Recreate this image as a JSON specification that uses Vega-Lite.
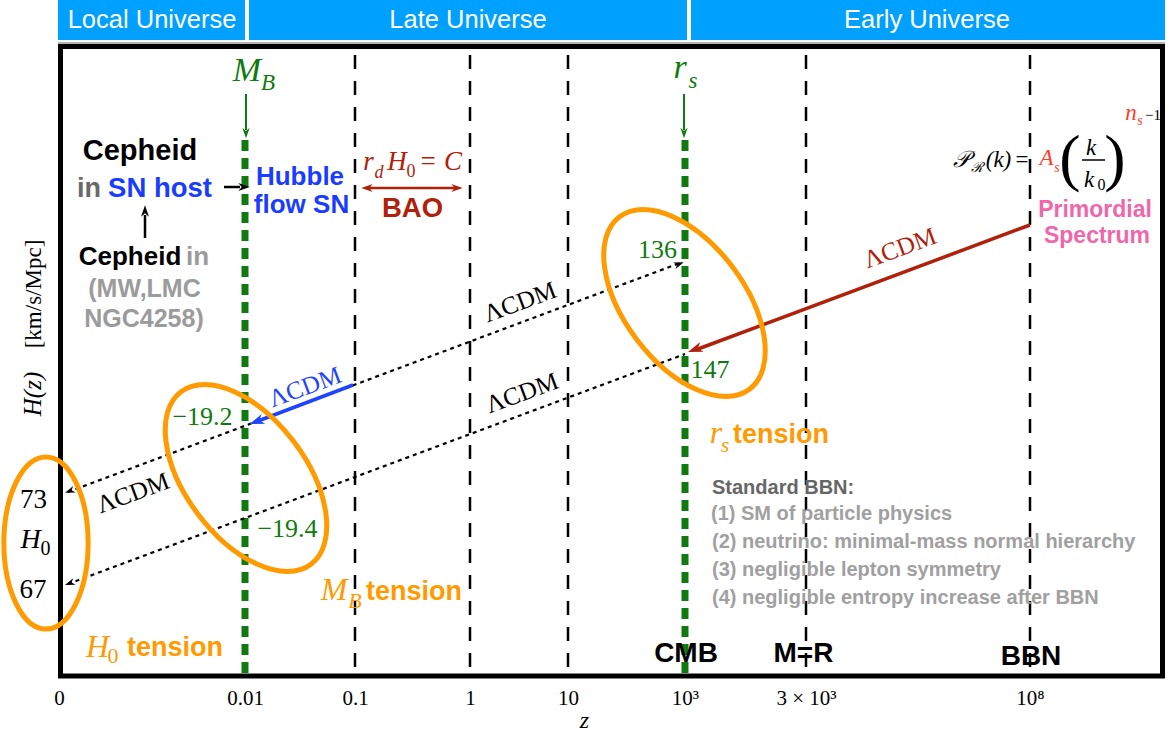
{
"$schema": "https://vega.github.io/schema/vega-lite/v6.json",
"width": 1168, "height": 676,
"autosize": {"type": "none"},
"padding": {"left": 0, "top": 0, "right": 0, "bottom": 60},
"background": "white",
"config": {"view": {"stroke": null}},
"encoding": {
  "x": {"field": "x", "type": "quantitative", "scale": {"domain": [0, 116.8], "nice": false, "zero": false},
        "axis": {"values": [5.9, 24.5, 35.5, 47, 56.8, 68.5, 80.6, 103],
                 "labelExpr": "datum.value == 5.9 ? '0' : datum.value == 24.5 ? '0.01' : datum.value == 35.5 ? '0.1' : datum.value == 47 ? '1' : datum.value == 56.8 ? '10' : datum.value == 68.5 ? '10³' : datum.value == 80.6 ? '3 × 10³' : '10⁸'",
                 "domain": false, "ticks": false, "tickSize": 0, "grid": false,
                 "labelFont": "Liberation Serif", "labelFontSize": 21, "labelColor": "black", "labelPadding": 11,
                 "labelFlush": false, "labelOverlap": false, "labelBound": false,
                 "title": "z", "titleFont": "Liberation Serif", "titleFontStyle": "italic", "titleFontWeight": "normal", "titleFontSize": 24, "titleColor": "black", "titlePadding": 0}},
  "y": {"field": "y", "type": "quantitative", "scale": {"domain": [0, 67.6], "nice": false, "zero": false}, "axis": null}
},
"layer": [
  {"data": {"values": [{"x": 5.8, "x2": 24.5, "y": 63.6, "y2": 67.6}, {"x": 24.9, "x2": 68.7, "y": 63.6, "y2": 67.6}, {"x": 69.1, "x2": 116.5, "y": 63.6, "y2": 67.6}]},
   "mark": {"type": "rect", "color": "#00A0FF"}, "encoding": {"x2": {"field": "x2"}, "y2": {"field": "y2"}}},
  {"data": {"values": [{"x": 15.2, "y": 65.6, "t": "Local Universe"}, {"x": 46.8, "y": 65.6, "t": "Late Universe"}, {"x": 92.7, "y": 65.6, "t": "Early Universe"}]},
   "mark": {"type": "text", "color": "white", "font": "Liberation Sans", "fontSize": 25.5, "align": "center", "baseline": "middle"}, "encoding": {"text": {"field": "t"}}},
  {"data": {"values": [{"x": 5.8, "x2": 116.5, "y": 63.3}]},
   "mark": {"type": "rule", "color": "#9a9a9a", "strokeWidth": 1.5}, "encoding": {"x2": {"field": "x2"}}},
  {"data": {"values": [{"x": 6.05, "x2": 116.25, "y": 0, "y2": 62.95}]},
   "mark": {"type": "rect", "filled": false, "stroke": "black", "strokeWidth": 5}, "encoding": {"x2": {"field": "x2"}, "y2": {"field": "y2"}}},
  {"data": {"values": [{"x": 35.5, "y": 62.1, "y2": 0}, {"x": 47.0, "y": 62.1, "y2": 0}, {"x": 56.8, "y": 62.1, "y2": 0}, {"x": 80.6, "y": 62.1, "y2": 0}, {"x": 103.0, "y": 62.1, "y2": 0}]},
   "mark": {"type": "rule", "color": "black", "strokeWidth": 2.5, "strokeDash": [14, 12]}, "encoding": {"y2": {"field": "y2"}}},
  {"data": {"values": [{"x": 24.5, "y": 53.6, "y2": 0}, {"x": 68.5, "y": 53.6, "y2": 0}]},
   "mark": {"type": "rule", "color": "#107A10", "strokeWidth": 7, "strokeDash": [11, 7]}, "encoding": {"y2": {"field": "y2"}}},
  {"data": {"values": [{"x": 24.6, "y": 58.2, "y2": 54.6}, {"x": 68.4, "y": 58.2, "y2": 54.6}]},
   "mark": {"type": "rule", "color": "#107A10", "strokeWidth": 2}, "encoding": {"y2": {"field": "y2"}}},
  {"data": {"values": [{"id": "u", "x": 6.8, "y": 18.4}, {"id": "u", "x": 68.0, "y": 41.3}, {"id": "l", "x": 6.8, "y": 9.2}, {"id": "l", "x": 68.5, "y": 32.2}]},
   "mark": {"type": "line", "color": "black", "strokeWidth": 2.2, "strokeDash": [4, 4]}, "encoding": {"detail": {"field": "id"}}},
  {"data": {"values": [{"id": "r", "x": 103.0, "y": 45.1}, {"id": "r", "x": 69.8, "y": 32.7}]},
   "mark": {"type": "line", "color": "#B0200A", "strokeWidth": 3.5}, "encoding": {"detail": {"field": "id"}}},
  {"data": {"values": [{"id": "b", "x": 35.3, "y": 29.1}, {"id": "b", "x": 25.8, "y": 25.5}]},
   "mark": {"type": "line", "color": "#1F45FC", "strokeWidth": 3.5}, "encoding": {"detail": {"field": "id"}}},
  {"data": {"values": [{"id": "a", "x": 22.4, "y": 48.9}, {"id": "a", "x": 24.0, "y": 48.9}, {"id": "c", "x": 14.5, "y": 43.8}, {"id": "c", "x": 14.5, "y": 46.1}]},
   "mark": {"type": "line", "color": "black", "strokeWidth": 2.5}, "encoding": {"detail": {"field": "id"}}},
  {"data": {"values": [{"id": "bao", "x": 36.8, "y": 48.8}, {"id": "bao", "x": 45.6, "y": 48.8}]},
   "mark": {"type": "line", "color": "#B0200A", "strokeWidth": 2.5}, "encoding": {"detail": {"field": "id"}}},
  {"data": {"values": [{"x": 108.2, "x2": 110.5, "y": 51.6}]},
   "mark": {"type": "rule", "color": "black", "strokeWidth": 1.5}, "encoding": {"x2": {"field": "x2"}}},
  {"data": {"values": [{"x": 24.6, "y": 54.3}, {"x": 68.4, "y": 54.3}]},
   "mark": {"type": "point", "shape": "M 1 0 L -1 -0.7 L -0.4 0 L -1 0.7 Z", "filled": true, "color": "#107A10", "size": 110, "angle": 90, "opacity": 1}},
  {"data": {"values": [{"x": 6.97, "y": 18.5}, {"x": 6.97, "y": 9.27}]},
   "mark": {"type": "point", "shape": "M 1 0 L -1 -0.7 L -0.4 0 L -1 0.7 Z", "filled": true, "color": "black", "size": 100, "angle": 159.6, "opacity": 1}},
  {"data": {"values": [{"x": 67.9, "y": 41.2}]},
   "mark": {"type": "point", "shape": "M 1 0 L -1 -0.7 L -0.4 0 L -1 0.7 Z", "filled": true, "color": "black", "size": 100, "angle": -20.4, "opacity": 1}},
  {"data": {"values": [{"x": 69.5, "y": 32.65}]},
   "mark": {"type": "point", "shape": "M 1 0 L -1 -0.7 L -0.4 0 L -1 0.7 Z", "filled": true, "color": "#B0200A", "size": 220, "angle": 159.6, "opacity": 1}},
  {"data": {"values": [{"x": 25.65, "y": 25.45}]},
   "mark": {"type": "point", "shape": "M 1 0 L -1 -0.7 L -0.4 0 L -1 0.7 Z", "filled": true, "color": "#1F45FC", "size": 220, "angle": 159.6, "opacity": 1}},
  {"data": {"values": [{"x": 24.4, "y": 48.9}]},
   "mark": {"type": "point", "shape": "M 1 0 L -1 -0.7 L -0.4 0 L -1 0.7 Z", "filled": true, "color": "black", "size": 130, "angle": 0, "opacity": 1}},
  {"data": {"values": [{"x": 14.5, "y": 46.5}]},
   "mark": {"type": "point", "shape": "M 1 0 L -1 -0.7 L -0.4 0 L -1 0.7 Z", "filled": true, "color": "black", "size": 130, "angle": 270, "opacity": 1}},
  {"data": {"values": [{"x": 45.7, "y": 48.8}]},
   "mark": {"type": "point", "shape": "M 1 0 L -1 -0.7 L -0.4 0 L -1 0.7 Z", "filled": true, "color": "#B0200A", "size": 130, "angle": 0, "opacity": 1}},
  {"data": {"values": [{"x": 36.7, "y": 48.8}]},
   "mark": {"type": "point", "shape": "M 1 0 L -1 -0.7 L -0.4 0 L -1 0.7 Z", "filled": true, "color": "#B0200A", "size": 130, "angle": 180, "opacity": 1}},
  {"data": {"values": [{"x": 24.6, "y": 19.8}, {"x": 68.45, "y": 37.3}]},
   "mark": {"type": "point", "shape": "M 1 0 C 1 0.307 0.552 0.556 0 0.556 C -0.552 0.556 -1 0.307 -1 0 C -1 -0.307 -0.552 -0.556 0 -0.556 C 0.552 -0.556 1 -0.307 1 0 Z", "filled": false, "color": "#FF9A00", "strokeWidth": 5, "size": 46656, "angle": 53, "opacity": 1}},
  {"data": {"values": [{"x": 4.6, "y": 13.3}]},
   "mark": {"type": "point", "shape": "M 1 0 C 1 0.271 0.552 0.49 0 0.49 C -0.552 0.49 -1 0.271 -1 0 C -1 -0.271 -0.552 -0.49 0 -0.49 C 0.552 -0.49 1 -0.271 1 0 Z", "filled": false, "color": "#FF9A00", "strokeWidth": 5, "size": 29584, "angle": 90, "opacity": 1}},
  {"data": {"values": [{"x": 24.7, "y": 59.5, "t": "M"}, {"x": 68.0, "y": 59.8, "t": "r"}]},
   "mark": {"type": "text", "color": "#107A10", "font": "Liberation Serif", "fontStyle": "italic", "fontSize": 34, "align": "center", "baseline": "alphabetic"}, "encoding": {"text": {"field": "t"}}},
  {"data": {"values": [{"x": 26.8, "y": 58.6, "t": "B"}, {"x": 69.3, "y": 58.8, "t": "s"}]},
   "mark": {"type": "text", "color": "#107A10", "font": "Liberation Serif", "fontStyle": "italic", "fontSize": 23, "align": "center", "baseline": "alphabetic"}, "encoding": {"text": {"field": "t"}}},
  {"data": {"values": [{"x": 65.75, "y": 41.8, "t": "136"}, {"x": 71.0, "y": 29.8, "t": "147"}, {"x": 20.25, "y": 25.1, "t": "−19.2"}, {"x": 28.75, "y": 13.9, "t": "−19.4"}]},
   "mark": {"type": "text", "color": "#107A10", "font": "Liberation Serif", "fontSize": 26, "align": "center", "baseline": "alphabetic"}, "encoding": {"text": {"field": "t"}}},
  {"data": {"values": [{"x": 3.35, "y": 16.8, "t": "73"}, {"x": 3.3, "y": 7.8, "t": "67"}]},
   "mark": {"type": "text", "color": "black", "font": "Liberation Serif", "fontSize": 27, "align": "center", "baseline": "alphabetic"}, "encoding": {"text": {"field": "t"}}},
  {"data": {"values": [{"x": 3.05, "y": 12.8, "t": "H"}]},
   "mark": {"type": "text", "color": "black", "font": "Liberation Serif", "fontStyle": "italic", "fontSize": 28, "align": "center", "baseline": "alphabetic"}, "encoding": {"text": {"field": "t"}}},
  {"data": {"values": [{"x": 4.55, "y": 12.1, "t": "0"}]},
   "mark": {"type": "text", "color": "black", "font": "Liberation Serif", "fontSize": 20, "align": "center", "baseline": "alphabetic"}, "encoding": {"text": {"field": "t"}}},
  {"data": {"values": [{"x": 9.75, "y": 1.9, "t": "H"}, {"x": 33.4, "y": 7.6, "t": "M"}, {"x": 71.6, "y": 23.3, "t": "r"}]},
   "mark": {"type": "text", "color": "#FF9A00", "font": "Liberation Serif", "fontStyle": "italic", "fontSize": 32, "align": "center", "baseline": "alphabetic"}, "encoding": {"text": {"field": "t"}}},
  {"data": {"values": [{"x": 35.5, "y": 6.8, "t": "B"}, {"x": 72.5, "y": 22.4, "t": "s"}]},
   "mark": {"type": "text", "color": "#FF9A00", "font": "Liberation Serif", "fontStyle": "italic", "fontSize": 22, "align": "center", "baseline": "alphabetic"}, "encoding": {"text": {"field": "t"}}},
  {"data": {"values": [{"x": 11.3, "y": 1.3, "t": "0"}]},
   "mark": {"type": "text", "color": "#FF9A00", "font": "Liberation Serif", "fontSize": 22, "align": "center", "baseline": "alphabetic"}, "encoding": {"text": {"field": "t"}}},
  {"data": {"values": [{"x": 12.7, "y": 2.0, "t": "tension"}, {"x": 36.6, "y": 7.6, "t": "tension"}, {"x": 73.3, "y": 23.3, "t": "tension"}]},
   "mark": {"type": "text", "color": "#FF9A00", "font": "Liberation Sans", "fontWeight": "bold", "fontSize": 27, "align": "left", "baseline": "alphabetic"}, "encoding": {"text": {"field": "t"}}},
  {"data": {"values": [{"x": 14.0, "y": 51.6, "t": "Cepheid"}]},
   "mark": {"type": "text", "color": "black", "font": "Liberation Sans", "fontWeight": "bold", "fontSize": 29, "align": "center", "baseline": "alphabetic"}, "encoding": {"text": {"field": "t"}}},
  {"data": {"values": [{"x": 13.0, "y": 41.1, "t": "Cepheid"}]},
   "mark": {"type": "text", "color": "black", "font": "Liberation Sans", "fontWeight": "bold", "fontSize": 26, "align": "center", "baseline": "alphabetic"}, "encoding": {"text": {"field": "t"}}},
  {"data": {"values": [{"x": 68.6, "y": 1.4, "t": "CMB"}, {"x": 80.35, "y": 1.4, "t": "M=R"}, {"x": 103.1, "y": 1.1, "t": "BBN"}]},
   "mark": {"type": "text", "color": "black", "font": "Liberation Sans", "fontWeight": "bold", "fontSize": 28, "align": "center", "baseline": "alphabetic"}, "encoding": {"text": {"field": "t"}}},
  {"data": {"values": [{"x": 8.9, "y": 47.9, "t": "in"}]},
   "mark": {"type": "text", "color": "#6a6a6a", "font": "Liberation Sans", "fontWeight": "bold", "fontSize": 27, "align": "center", "baseline": "alphabetic"}, "encoding": {"text": {"field": "t"}}},
  {"data": {"values": [{"x": 19.75, "y": 41.1, "t": "in"}]},
   "mark": {"type": "text", "color": "#9b9b9b", "font": "Liberation Sans", "fontWeight": "bold", "fontSize": 26, "align": "center", "baseline": "alphabetic"}, "encoding": {"text": {"field": "t"}}},
  {"data": {"values": [{"x": 14.45, "y": 37.9, "t": "(MW,LMC"}, {"x": 14.4, "y": 34.9, "t": "NGC4258)"}]},
   "mark": {"type": "text", "color": "#9b9b9b", "font": "Liberation Sans", "fontWeight": "bold", "fontSize": 25, "align": "center", "baseline": "alphabetic"}, "encoding": {"text": {"field": "t"}}},
  {"data": {"values": [{"x": 16.0, "y": 47.9, "t": "SN host"}]},
   "mark": {"type": "text", "color": "#1A3CFF", "font": "Liberation Sans", "fontWeight": "bold", "fontSize": 27.5, "align": "center", "baseline": "alphabetic"}, "encoding": {"text": {"field": "t"}}},
  {"data": {"values": [{"x": 30.0, "y": 49.1, "t": "Hubble"}, {"x": 30.15, "y": 46.3, "t": "flow SN"}]},
   "mark": {"type": "text", "color": "#1A3CFF", "font": "Liberation Sans", "fontWeight": "bold", "fontSize": 26, "align": "center", "baseline": "alphabetic"}, "encoding": {"text": {"field": "t"}}},
  {"data": {"values": [{"x": 41.25, "y": 45.9, "t": "BAO"}]},
   "mark": {"type": "text", "color": "#B0200A", "font": "Liberation Sans", "fontWeight": "bold", "fontSize": 27.5, "align": "center", "baseline": "alphabetic"}, "encoding": {"text": {"field": "t"}}},
  {"data": {"values": [{"x": 109.5, "y": 45.9, "t": "Primordial"}, {"x": 109.7, "y": 43.3, "t": "Spectrum"}]},
   "mark": {"type": "text", "color": "#F066AA", "font": "Liberation Sans", "fontWeight": "bold", "fontSize": 23, "align": "center", "baseline": "alphabetic"}, "encoding": {"text": {"field": "t"}}},
  {"data": {"values": [{"x": 71.2, "y": 18.2, "t": "Standard BBN:"}]},
   "mark": {"type": "text", "color": "#666666", "font": "Liberation Sans", "fontWeight": "bold", "fontSize": 20, "align": "left", "baseline": "alphabetic"}, "encoding": {"text": {"field": "t"}}},
  {"data": {"values": [{"x": 71.1, "y": 15.6, "t": "(1) SM of particle physics"}, {"x": 71.2, "y": 12.8, "t": "(2) neutrino: minimal-mass normal hierarchy"}, {"x": 71.2, "y": 10.0, "t": "(3) negligible lepton symmetry"}, {"x": 71.2, "y": 7.2, "t": "(4) negligible entropy increase after BBN"}]},
   "mark": {"type": "text", "color": "#a0a0a0", "font": "Liberation Sans", "fontWeight": "bold", "fontSize": 20, "align": "left", "baseline": "alphabetic"}, "encoding": {"text": {"field": "t"}}},
  {"data": {"values": [{"x": 36.85, "y": 50.6, "t": "r"}, {"x": 39.7, "y": 50.6, "t": "H"}, {"x": 45.3, "y": 50.6, "t": "C"}]},
   "mark": {"type": "text", "color": "#B0200A", "font": "Liberation Serif", "fontStyle": "italic", "fontSize": 27, "align": "center", "baseline": "alphabetic"}, "encoding": {"text": {"field": "t"}}},
  {"data": {"values": [{"x": 37.9, "y": 49.8, "t": "d"}]},
   "mark": {"type": "text", "color": "#B0200A", "font": "Liberation Serif", "fontStyle": "italic", "fontSize": 18, "align": "center", "baseline": "alphabetic"}, "encoding": {"text": {"field": "t"}}},
  {"data": {"values": [{"x": 41.1, "y": 49.9, "t": "0"}]},
   "mark": {"type": "text", "color": "#B0200A", "font": "Liberation Serif", "fontSize": 18, "align": "center", "baseline": "alphabetic"}, "encoding": {"text": {"field": "t"}}},
  {"data": {"values": [{"x": 42.8, "y": 50.6, "t": "="}]},
   "mark": {"type": "text", "color": "#B0200A", "font": "Liberation Serif", "fontSize": 27, "align": "center", "baseline": "alphabetic"}, "encoding": {"text": {"field": "t"}}},
  {"data": {"values": [{"x": 52.0, "y": 37.4, "t": "ΛCDM"}, {"x": 52.2, "y": 28.3, "t": "ΛCDM"}, {"x": 13.3, "y": 18.3, "t": "ΛCDM"}]},
   "mark": {"type": "text", "color": "black", "font": "Liberation Serif", "fontSize": 25, "align": "center", "baseline": "middle", "angle": -20.4}, "encoding": {"text": {"field": "t"}}},
  {"data": {"values": [{"x": 90.0, "y": 42.8, "t": "ΛCDM"}]},
   "mark": {"type": "text", "color": "#B0200A", "font": "Liberation Serif", "fontSize": 25, "align": "center", "baseline": "middle", "angle": -20.4}, "encoding": {"text": {"field": "t"}}},
  {"data": {"values": [{"x": 30.5, "y": 28.9, "t": "ΛCDM"}]},
   "mark": {"type": "text", "color": "#1F45FC", "font": "Liberation Serif", "fontSize": 25, "align": "center", "baseline": "middle", "angle": -20.4}, "encoding": {"text": {"field": "t"}}},
  {"data": {"values": [{"x": 3.3, "y": 28.2, "t": "H(z)"}]},
   "mark": {"type": "text", "color": "black", "font": "Liberation Serif", "fontStyle": "italic", "fontSize": 25, "align": "center", "baseline": "middle", "angle": 270}, "encoding": {"text": {"field": "t"}}},
  {"data": {"values": [{"x": 3.4, "y": 38.2, "t": "[km/s/Mpc]"}]},
   "mark": {"type": "text", "color": "black", "font": "Liberation Serif", "fontSize": 23, "align": "center", "baseline": "middle", "angle": 270}, "encoding": {"text": {"field": "t"}}},
  {"data": {"values": [{"x": 96.1, "y": 50.9, "t": "𝒫"}, {"x": 99.85, "y": 50.9, "t": "(k)"}, {"x": 109.1, "y": 52.1, "t": "k"}, {"x": 108.9, "y": 48.9, "t": "k"}]},
   "mark": {"type": "text", "color": "black", "font": "Liberation Serif", "fontStyle": "italic", "fontSize": 23, "align": "center", "baseline": "alphabetic"}, "encoding": {"text": {"field": "t"}}},
  {"data": {"values": [{"x": 97.7, "y": 50.4, "t": "ℛ"}]},
   "mark": {"type": "text", "color": "black", "font": "Liberation Serif", "fontStyle": "italic", "fontSize": 14, "align": "center", "baseline": "alphabetic"}, "encoding": {"text": {"field": "t"}}},
  {"data": {"values": [{"x": 102.2, "y": 50.9, "t": "="}]},
   "mark": {"type": "text", "color": "black", "font": "Liberation Serif", "fontSize": 23, "align": "center", "baseline": "alphabetic"}, "encoding": {"text": {"field": "t"}}},
  {"data": {"values": [{"x": 110.15, "y": 48.6, "t": "0"}]},
   "mark": {"type": "text", "color": "black", "font": "Liberation Serif", "fontSize": 16, "align": "center", "baseline": "alphabetic"}, "encoding": {"text": {"field": "t"}}},
  {"data": {"values": [{"x": 107.0, "y": 49.7, "t": "("}, {"x": 111.5, "y": 49.7, "t": ")"}]},
   "mark": {"type": "text", "color": "black", "font": "Liberation Serif", "fontSize": 64, "align": "center", "baseline": "alphabetic"}, "encoding": {"text": {"field": "t"}}},
  {"data": {"values": [{"x": 104.65, "y": 51.1, "t": "A"}, {"x": 113.1, "y": 55.6, "t": "n"}]},
   "mark": {"type": "text", "color": "#FF3C28", "font": "Liberation Serif", "fontStyle": "italic", "fontSize": 23, "align": "center", "baseline": "alphabetic"}, "encoding": {"text": {"field": "t"}}},
  {"data": {"values": [{"x": 105.7, "y": 50.4, "t": "s"}, {"x": 114.0, "y": 55.1, "t": "s"}]},
   "mark": {"type": "text", "color": "#FF3C28", "font": "Liberation Serif", "fontStyle": "italic", "fontSize": 14, "align": "center", "baseline": "alphabetic"}, "encoding": {"text": {"field": "t"}}},
  {"data": {"values": [{"x": 114.5, "y": 55.6, "t": "−1"}]},
   "mark": {"type": "text", "color": "black", "font": "Liberation Serif", "fontSize": 15, "align": "left", "baseline": "alphabetic"}, "encoding": {"text": {"field": "t"}}}
]
}
